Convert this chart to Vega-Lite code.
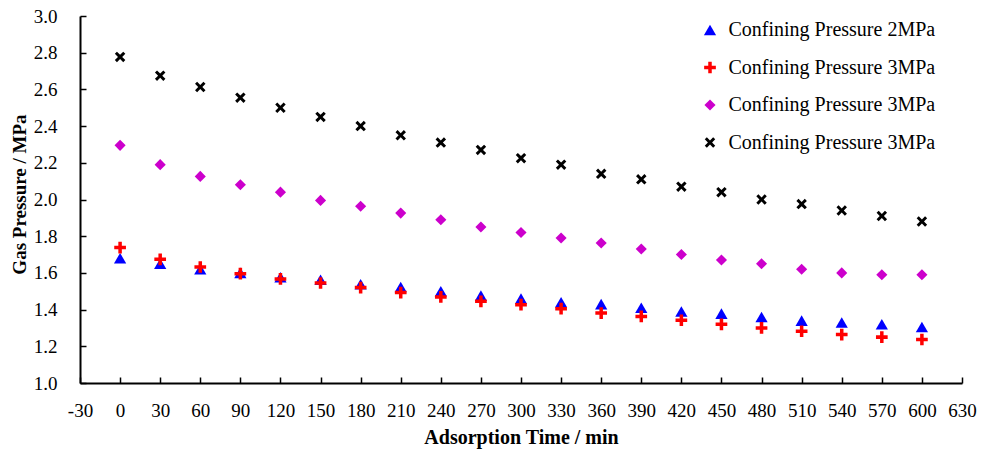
{
  "$schema": "https://vega.github.io/schema/vega-lite/v6.json",
  "width": 882,
  "height": 367,
  "autosize": {"type": "none"},
  "padding": {"left": 80, "top": 16, "right": 22, "bottom": 66},
  "background": "white",
  "config": {"view": {"stroke": null}, "font": "Liberation Serif"},
  "datasets": {
    "d": [
      {"t": 0, "p": 1.68, "s": "2MPa"}, {"t": 30, "p": 1.65, "s": "2MPa"}, {"t": 60, "p": 1.62, "s": "2MPa"}, {"t": 90, "p": 1.60, "s": "2MPa"}, {"t": 120, "p": 1.576, "s": "2MPa"}, {"t": 150, "p": 1.563, "s": "2MPa"}, {"t": 180, "p": 1.538, "s": "2MPa"}, {"t": 210, "p": 1.523, "s": "2MPa"}, {"t": 240, "p": 1.50, "s": "2MPa"}, {"t": 270, "p": 1.476, "s": "2MPa"}, {"t": 300, "p": 1.46, "s": "2MPa"}, {"t": 330, "p": 1.44, "s": "2MPa"}, {"t": 360, "p": 1.43, "s": "2MPa"}, {"t": 390, "p": 1.41, "s": "2MPa"}, {"t": 420, "p": 1.39, "s": "2MPa"}, {"t": 450, "p": 1.378, "s": "2MPa"}, {"t": 480, "p": 1.36, "s": "2MPa"}, {"t": 510, "p": 1.34, "s": "2MPa"}, {"t": 540, "p": 1.33, "s": "2MPa"}, {"t": 570, "p": 1.32, "s": "2MPa"}, {"t": 600, "p": 1.305, "s": "2MPa"},
      {"t": 0, "p": 1.738, "s": "3MPa-a"}, {"t": 30, "p": 1.674, "s": "3MPa-a"}, {"t": 60, "p": 1.632, "s": "3MPa-a"}, {"t": 90, "p": 1.596, "s": "3MPa-a"}, {"t": 120, "p": 1.567, "s": "3MPa-a"}, {"t": 150, "p": 1.545, "s": "3MPa-a"}, {"t": 180, "p": 1.52, "s": "3MPa-a"}, {"t": 210, "p": 1.493, "s": "3MPa-a"}, {"t": 240, "p": 1.469, "s": "3MPa-a"}, {"t": 270, "p": 1.445, "s": "3MPa-a"}, {"t": 300, "p": 1.427, "s": "3MPa-a"}, {"t": 330, "p": 1.405, "s": "3MPa-a"}, {"t": 360, "p": 1.381, "s": "3MPa-a"}, {"t": 390, "p": 1.363, "s": "3MPa-a"}, {"t": 420, "p": 1.342, "s": "3MPa-a"}, {"t": 450, "p": 1.32, "s": "3MPa-a"}, {"t": 480, "p": 1.30, "s": "3MPa-a"}, {"t": 510, "p": 1.282, "s": "3MPa-a"}, {"t": 540, "p": 1.264, "s": "3MPa-a"}, {"t": 570, "p": 1.25, "s": "3MPa-a"}, {"t": 600, "p": 1.237, "s": "3MPa-a"},
      {"t": 0, "p": 2.295, "s": "3MPa-b"}, {"t": 30, "p": 2.19, "s": "3MPa-b"}, {"t": 60, "p": 2.126, "s": "3MPa-b"}, {"t": 90, "p": 2.08, "s": "3MPa-b"}, {"t": 120, "p": 2.04, "s": "3MPa-b"}, {"t": 150, "p": 1.995, "s": "3MPa-b"}, {"t": 180, "p": 1.963, "s": "3MPa-b"}, {"t": 210, "p": 1.926, "s": "3MPa-b"}, {"t": 240, "p": 1.89, "s": "3MPa-b"}, {"t": 270, "p": 1.85, "s": "3MPa-b"}, {"t": 300, "p": 1.82, "s": "3MPa-b"}, {"t": 330, "p": 1.79, "s": "3MPa-b"}, {"t": 360, "p": 1.763, "s": "3MPa-b"}, {"t": 390, "p": 1.73, "s": "3MPa-b"}, {"t": 420, "p": 1.70, "s": "3MPa-b"}, {"t": 450, "p": 1.67, "s": "3MPa-b"}, {"t": 480, "p": 1.65, "s": "3MPa-b"}, {"t": 510, "p": 1.62, "s": "3MPa-b"}, {"t": 540, "p": 1.60, "s": "3MPa-b"}, {"t": 570, "p": 1.59, "s": "3MPa-b"}, {"t": 600, "p": 1.59, "s": "3MPa-b"},
      {"t": 0, "p": 2.777, "s": "3MPa-c"}, {"t": 30, "p": 2.675, "s": "3MPa-c"}, {"t": 60, "p": 2.613, "s": "3MPa-c"}, {"t": 90, "p": 2.555, "s": "3MPa-c"}, {"t": 120, "p": 2.50, "s": "3MPa-c"}, {"t": 150, "p": 2.45, "s": "3MPa-c"}, {"t": 180, "p": 2.40, "s": "3MPa-c"}, {"t": 210, "p": 2.35, "s": "3MPa-c"}, {"t": 240, "p": 2.31, "s": "3MPa-c"}, {"t": 270, "p": 2.27, "s": "3MPa-c"}, {"t": 300, "p": 2.225, "s": "3MPa-c"}, {"t": 330, "p": 2.19, "s": "3MPa-c"}, {"t": 360, "p": 2.14, "s": "3MPa-c"}, {"t": 390, "p": 2.11, "s": "3MPa-c"}, {"t": 420, "p": 2.07, "s": "3MPa-c"}, {"t": 450, "p": 2.04, "s": "3MPa-c"}, {"t": 480, "p": 2.00, "s": "3MPa-c"}, {"t": 510, "p": 1.975, "s": "3MPa-c"}, {"t": 540, "p": 1.94, "s": "3MPa-c"}, {"t": 570, "p": 1.91, "s": "3MPa-c"}, {"t": 600, "p": 1.88, "s": "3MPa-c"}
    ]
  },
  "data": {"name": "d"},
  "mark": {"type": "point", "filled": true, "opacity": 1, "strokeWidth": 0},
  "encoding": {
    "x": {
      "field": "t",
      "type": "quantitative",
      "scale": {"domain": [-30, 630], "nice": false, "zero": false},
      "axis": {
        "title": "Adsorption Time / min",
        "values": [-30, 0, 30, 60, 90, 120, 150, 180, 210, 240, 270, 300, 330, 360, 390, 420, 450, 480, 510, 540, 570, 600, 630],
        "labelExpr": "'' + datum.value",
        "grid": false,
        "domainColor": "black",
        "domainWidth": 2,
        "tickColor": "black",
        "tickWidth": 1.5,
        "tickSize": -6,
        "labelPadding": 24,
        "labelFlush": false,
        "labelOverlap": false,
        "labelFont": "Liberation Serif",
        "labelFontSize": 19,
        "labelColor": "black",
        "labelBaseline": "top",
        "titleFont": "Liberation Serif",
        "titleFontSize": 20,
        "titleFontWeight": "bold",
        "titleColor": "black",
        "titleX": 441,
        "titleY": 60,
        "titleBaseline": "alphabetic"
      }
    },
    "y": {
      "field": "p",
      "type": "quantitative",
      "scale": {"domain": [1, 3], "nice": false, "zero": false},
      "axis": {
        "title": "Gas Pressure / MPa",
        "values": [1.0, 1.2, 1.4, 1.6, 1.8, 2.0, 2.2, 2.4, 2.6, 2.8, 3.0],
        "format": ".1f",
        "grid": false,
        "domainColor": "black",
        "domainWidth": 2,
        "tickColor": "black",
        "tickWidth": 1.5,
        "tickSize": -6,
        "labelPadding": 29,
        "labelFlush": false,
        "labelOverlap": false,
        "labelFont": "Liberation Serif",
        "labelFontSize": 19,
        "labelColor": "black",
        "titleFont": "Liberation Serif",
        "titleFontSize": 19,
        "titleFontWeight": "bold",
        "titleColor": "black",
        "titleX": -55,
        "titleY": 178,
        "titleBaseline": "alphabetic"
      }
    },
    "color": {
      "field": "s",
      "type": "nominal",
      "scale": {"domain": ["2MPa", "3MPa-a", "3MPa-b", "3MPa-c"], "range": ["#0000FF", "#FF0000", "#CC00CC", "#000000"]},
      "legend": {
        "title": null,
        "orient": "none",
        "legendX": 620,
        "legendY": 4,
        "padding": 0,
        "labelExpr": "'Confining Pressure ' + slice(datum.label, 0, 4)",
        "labelFont": "Liberation Serif",
        "labelFontSize": 20,
        "labelColor": "black",
        "labelLimit": 0,
        "labelOffset": 8.5,
        "rowPadding": 17.5,
        "symbolStrokeWidth": 0
      }
    },
    "shape": {
      "field": "s",
      "type": "nominal",
      "scale": {"domain": ["2MPa", "3MPa-a", "3MPa-b", "3MPa-c"], "range": ["triangle-up", "M-1,-0.3L-0.3,-0.3L-0.3,-1L0.3,-1L0.3,-0.3L1,-0.3L1,0.3L0.3,0.3L0.3,1L-0.3,1L-0.3,0.3L-1,0.3Z", "diamond", "M-0.6,-1L0,-0.4L0.6,-1L1,-0.6L0.4,0L1,0.6L0.6,1L0,0.4L-0.6,1L-1,0.6L-0.4,0L-1,-0.6Z"]}
    },
    "size": {
      "field": "s",
      "type": "nominal",
      "scale": {"domain": ["2MPa", "3MPa-a", "3MPa-b", "3MPa-c"], "range": [150, 110, 100, 140]}
    }
  }
}
